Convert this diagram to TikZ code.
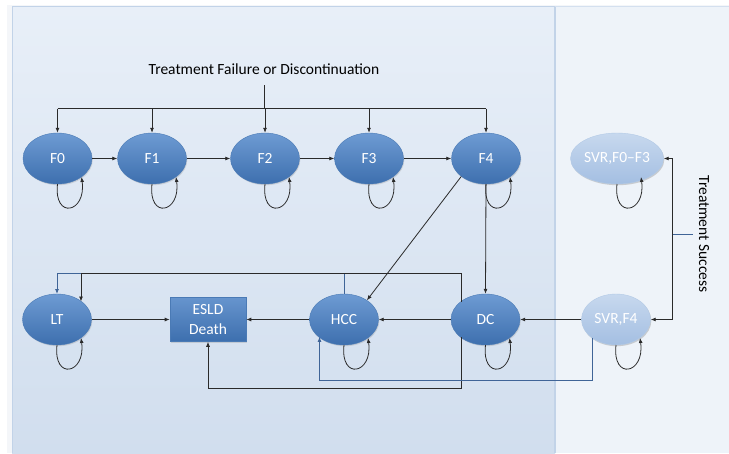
\documentclass[tikz,border=0pt]{standalone}
\usepackage{fontspec}
\setmainfont{Carlito}
\usetikzlibrary{arrows.meta,shadows,calc,shapes.geometric}
\definecolor{nodeTop}{HTML}{6E9BD3}
\definecolor{nodeBot}{HTML}{3D6FAE}
\definecolor{nodeEdge}{HTML}{4A7AB5}
\definecolor{svrTop}{HTML}{C7D8EE}
\definecolor{svrBot}{HTML}{A4BFE2}
\definecolor{svrEdge}{HTML}{B3CAE6}
\definecolor{panelTop}{HTML}{E8EFF8}
\definecolor{panelBot}{HTML}{D1DEEE}
\definecolor{rightPanel}{HTML}{EEF3F9}
\definecolor{frameCol}{HTML}{F4F6F9}
\definecolor{divCol}{HTML}{C2D3E8}
\definecolor{lineDark}{HTML}{2A2A2A}
\definecolor{lineBlue}{HTML}{3F6497}
\tikzset{
  state/.style={ellipse,minimum width=69pt,minimum height=51pt,inner sep=0pt,
    top color=nodeTop,bottom color=nodeBot,draw=nodeEdge,line width=0.4pt,
    text=white,font=\fontsize{15.5}{17}\selectfont,
    drop shadow={opacity=0.25,shadow xshift=0.8pt,shadow yshift=-1.2pt}},
  svrstate/.style={state,top color=svrTop,bottom color=svrBot,draw=svrEdge,
    drop shadow={opacity=0.12,shadow xshift=0.8pt,shadow yshift=-1.2pt}},
  absorb/.style={rectangle,minimum width=76pt,minimum height=44pt,inner sep=0pt,
    top color=nodeTop!85!nodeBot,bottom color=nodeBot,draw=nodeEdge,line width=0.6pt,
    text=white,align=center,font=\fontsize{15.5}{20}\selectfont,
    drop shadow={opacity=0.25,shadow xshift=0.8pt,shadow yshift=-1.2pt}},
  arr/.style={-{Latex[length=5pt,width=4pt]},draw=lineDark,line width=0.8pt},
  arrb/.style={arr,draw=lineBlue},
  plain/.style={draw=lineDark,line width=0.8pt},
  plainb/.style={draw=lineBlue,line width=0.8pt},
  lbl/.style={font=\fontsize{15.5}{17}\selectfont,text=black}
}
\newcommand{\selfloop}[1]{%
  \draw[arr] ($(#1.center)+(0,25.5)$) .. controls +(-4,36) and +(5,36) .. ($(#1.center)+(24,18.5)$);}
\begin{document}
\begin{tikzpicture}[x=1pt,y=-1pt]
\useasboundingbox (0,0) rectangle (729,453);
% backgrounds
\fill[white] (0,0) rectangle (729,453);
\fill[frameCol] (7,4.5) rectangle (729,453);
\fill[rightPanel] (555,6) rectangle (729,453);
\shade[top color=panelTop,bottom color=panelBot] (12,6) rectangle (555,453);
\draw[divCol,line width=0.8pt] (12,453) -- (12,6) -- (555,6);
\draw[divCol,line width=2.5pt] (555,6) -- (555,453);
\draw[divCol!70,line width=0.6pt] (555,6) -- (729,6);

% title
\node[lbl] (title) at (264,69) {Treatment Failure or Discontinuation};
\coordinate (ttop) at (264,85);
\coordinate (hub) at (264,108.5);

% row 1
\node[state] (F0) at (57.5,158.5) {F0};
\node[state] (F1) at (152,158.5) {F1};
\node[state] (F2) at (265,158.5) {F2};
\node[state] (F3) at (369,158.5) {F3};
\node[state] (F4) at (486,158.5) {F4};
\node[svrstate] (S1) at (617,158.5) {SVR,F0--F3};

% row 2
\node[state] (LT) at (57,319.5) {LT};
\node[absorb] (ESLD) at (208,319.5) {ESLD\\Death};
\node[state] (HCC) at (344,319.5) {HCC};
\node[state] (DC) at (485.5,319.5) {DC};
\node[svrstate] (S2) at (616,319.5) {SVR,F4};

% failure distribution
\draw[plain] (ttop) -- (hub);
\draw[plain] (F0.north |- hub) -- (F4.north |- hub);
\foreach \n in {F0,F1,F2,F3,F4} {\draw[arr] (\n.north |- hub) -- (\n.north);}

% row 1 progression
\draw[arr] (F0.east) -- (F1.west);
\draw[arr] (F1.east) -- (F2.west);
\draw[arr] (F2.east) -- (F3.west);
\draw[arr] (F3.east) -- (F4.west);

% F4 to DC and HCC
\draw[arr] (F4.south) -- (DC.north);
\draw[arr] (F4.-144) -- (HCC.40);

% row 2
\draw[arr] (LT.east) -- (ESLD.west);
\draw[arr] (HCC.west) -- (ESLD.east);
\draw[arr] (DC.west) -- (HCC.east);
\draw[arr] (S2.west) -- (DC.east);

% HCC -> LT
\coordinate (ltA) at ($(LT.center)+(0,-25.5)$);
\coordinate (ltB) at ($(LT.center)+(24,-18)$);
\draw[arrb] (HCC.north) -- ++(0,-20.5) -| (ltA);
% DC -> LT
\coordinate (dcA) at ($(DC.center)+(-24.5,-17.4)$);
\coordinate (dcB) at ($(DC.center)+(-24.5,17.4)$);
\draw[arr] (dcA) -- ++(0,-29) -| (ltB);
% DC -> ESLD
\draw[arr] (dcB) -- ++(0,51.6) -| (ESLD.south);
% SVR,F4 -> HCC
\coordinate (s2A) at ($(S2.center)+(-24,18)$);
\coordinate (hB) at ($(HCC.center)+(-24.5,17.4)$);
\draw[arrb] (s2A) -- ++(0,43) -| (hB);

% self loops
\foreach \n in {F0,F1,F2,F3,F4,S1,LT,HCC,DC,S2} {\selfloop{\n}}

% treatment success
\coordinate (tsA) at (672.5,158.5);
\coordinate (tsB) at (672.5,319.5);
\coordinate (tsM) at (672.5,234.5);
\coordinate (tsT) at (693,234.5);
\draw[plain] (tsA) -- (tsB);
\draw[arr] (tsA) -- (S1.east);
\draw[arr] (tsB) -- (S2.east);
\draw[plainb] (tsM) -- (tsT);
\node[lbl,rotate=-90] (succ) at (704,234) {Treatment Success};
\end{tikzpicture}
\end{document}
